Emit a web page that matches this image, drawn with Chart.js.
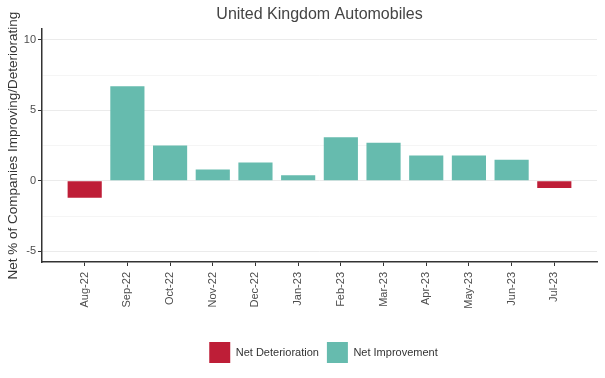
<!DOCTYPE html>
<html><head><meta charset="utf-8">
<script src="https://cdn.jsdelivr.net/npm/chart.js@4"></script>
<style>html,body{margin:0;padding:0;background:#fff;}#wrap{width:605px;height:378px;}</style>
</head><body><div id="wrap"><canvas id="c" width="605" height="378"></canvas></div>
<script>
const categories = ["Aug-22","Sep-22","Oct-22","Nov-22","Dec-22","Jan-23","Feb-23","Mar-23","Apr-23","May-23","Jun-23","Jul-23"];
const netValues = [-1.2, 6.7, 2.5, 0.8, 1.3, 0.4, 3.1, 2.7, 1.8, 1.8, 1.5, -0.5];
const yTicks = [-5, 0, 5, 10];
const seriesNames = ["Net Deterioration", "Net Improvement"];

const detData = netValues.map((v,i)=> v < 0 ? {x:i, y:v} : null).filter(Boolean);
const impData = netValues.map((v,i)=> v >= 0 ? {x:i, y:v} : null).filter(Boolean);

const shiftPlugin = {
  id: 'shiftBlocks',
  afterLayout(chart) {
    if (chart.titleBlock) { chart.titleBlock.left += 21; chart.titleBlock.right += 21; }
    if (chart.legend) { chart.legend.left += 25; chart.legend.right += 25; }
  }
};

Chart.defaults.font.family = "'Liberation Sans', Arial, sans-serif";
new Chart(document.getElementById('c'), {
  type: 'bar',
  plugins: [shiftPlugin],
  data: {
    datasets: [
      {label: seriesNames[0], data: detData, backgroundColor: '#BE1E37', borderWidth: 0, grouped: false, barPercentage: 0.8, categoryPercentage: 1},
      {label: seriesNames[1], data: impData, backgroundColor: '#66BBAE', borderWidth: 0, grouped: false, barPercentage: 0.8, categoryPercentage: 1}
    ]
  },
  options: {
    responsive: false,
    animation: false,
    layout: {padding: {left: 0, right: 8, top: 0, bottom: 5}},
    plugins: {
      title: {display: true, text: 'United Kingdom Automobiles', color: '#444', font: {size: 16, weight: 'normal'}, padding: {top: 5, bottom: 5}},
      legend: {position: 'bottom', labels: {boxWidth: 21, boxHeight: 21, color: '#333', font: {size: 11}, padding: 8}},
      tooltip: {enabled: false}
    },
    scales: {
      x: {
        type: 'linear', min: -1, max: 12, offset: false,
        afterBuildTicks: s => { s.ticks = categories.map((c,i)=>({value:i})); },
        afterFit: s => { s.height = 72; },
        ticks: {autoSkip: false, minRotation: 90, maxRotation: 90, color: '#4d4d4d', font: {size: 11}, padding: 6,
          callback: (v) => categories[v] !== undefined ? categories[v] : ''},
        grid: {display: true, offset: false, drawOnChartArea: false, drawTicks: true, tickLength: 4, tickColor: '#333'},
        border: {display: true, color: '#333', width: 1.5}
      },
      y: {
        min: -5.75, max: 10.75,
        afterBuildTicks: s => { s.ticks = [-5,-2.5,0,2.5,5,7.5,10].map(v=>({value:v})); },
        afterFit: s => { s.width = 42; },
        ticks: {color: '#4d4d4d', font: {size: 11}, padding: 2,
          callback: v => yTicks.includes(v) ? String(v) : ''},
        grid: {
          color: ctx => (ctx.tick && yTicks.includes(ctx.tick.value)) ? '#ebebeb' : '#f5f5f5',
          tickColor: ctx => (ctx.tick && yTicks.includes(ctx.tick.value)) ? '#333' : 'rgba(0,0,0,0)',
          tickLength: 4, lineWidth: 1
        },
        border: {display: true, color: '#333', width: 1.5},
        title: {display: true, text: 'Net % of Companies Improving/Deteriorating', color: '#333', font: {size: 13.5}, padding: {top: 5, bottom: 0}}
      }
    }
  }
});
</script></body></html>
